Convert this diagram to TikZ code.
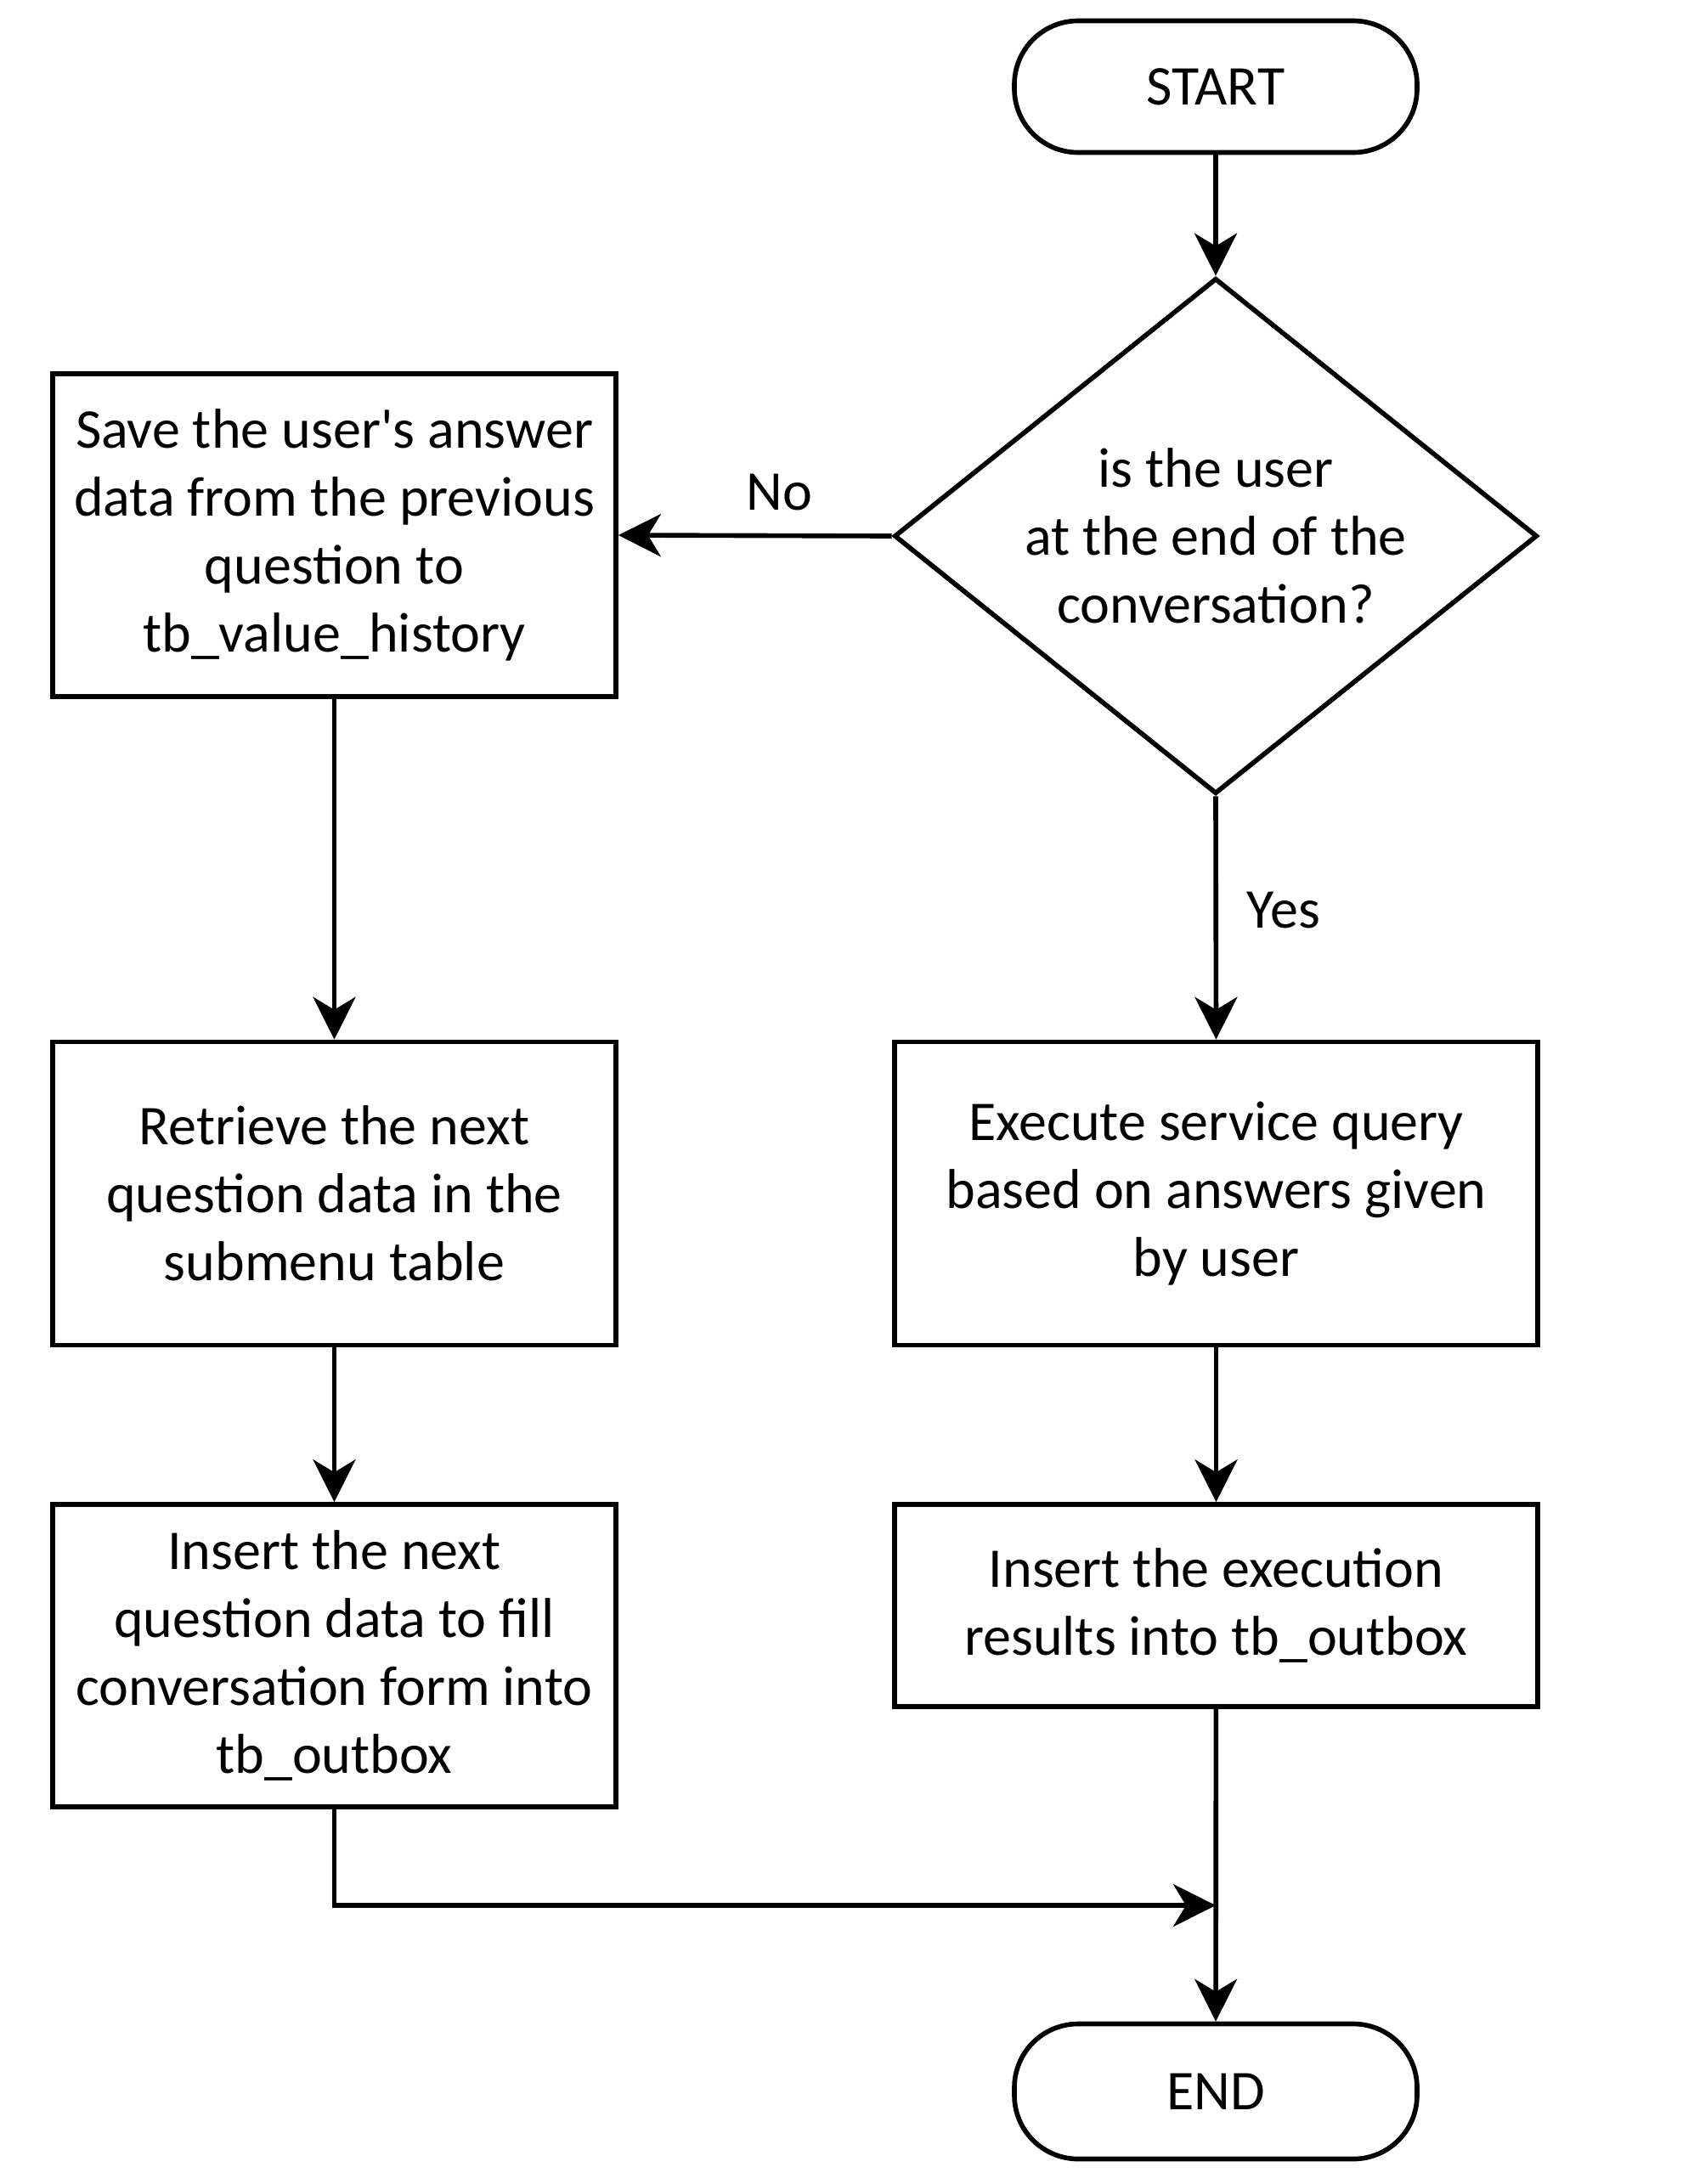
\documentclass[tikz,border=0pt]{standalone}
\usepackage{fontspec}
\setmainfont{Carlito}
\usetikzlibrary{arrows.meta,positioning}
\usetikzlibrary{shapes.geometric}

\begin{document}
\begin{tikzpicture}[
  every node/.style={font=\fontsize{18.8}{22.8}\selectfont},
  terminal/.style={draw, line width=1.6pt, rounded corners=0.75cm, minimum width=4.74cm, minimum height=1.55cm, inner sep=0pt},
  process/.style={draw, line width=1.6pt, align=center, minimum width=6.63cm, inner sep=0pt},
  decision/.style={draw, diamond, aspect=1.25, line width=1.6pt, align=center, minimum width=7.57cm, minimum height=6.07cm, inner sep=0pt},
  flow/.style={line width=1.6pt, -{Stealth[length=0.5cm, width=0.5cm, inset=0.15cm]}}
]
\useasboundingbox (0,0) rectangle (19.94,-25.71);
\node[terminal] (start) at (14.31,-1.02) {START};
\node[decision] (check) at (14.31,-6.31) {is the user\\at the end of the\\conversation?};
\node[process, minimum height=3.80cm] (save) at (3.935,-6.30) {Save the user\textquotesingle s answer\\data from the previous\\question to\\tb\_value\_history};
\node[process, minimum height=3.57cm] (retrieve) at (3.935,-14.05) {Retrieve the next\\question data in the\\submenu table};
\node[process, minimum height=3.56cm] (insertq) at (3.935,-19.49) {Insert the next\\question data to fill\\conversation form into\\tb\_outbox};
\node[process, minimum width=7.57cm, minimum height=3.57cm] (execute) at (14.315,-14.05) {Execute service query\\based on answers given\\by user};
\node[process, minimum width=7.57cm, minimum height=2.38cm] (insertr) at (14.315,-18.90) {Insert the execution\\results into tb\_outbox};
\node[terminal, minimum height=1.59cm] (end) at (14.31,-24.62) {END};
\coordinate (join) at (14.31,-22.43);
\draw[flow] (start) -- (check);
\draw[flow] (check.west) -- node[above=0.15cm, pos=0.41] {No} (save.east);
\draw[flow] (check.south) -- node[right=0.22cm, pos=0.47] {Yes} (execute.north);
\draw[flow] (save) -- (retrieve);
\draw[flow] (retrieve) -- (insertq);
\draw[flow] (execute) -- (insertr);
\draw[flow] (insertr) -- (end);
\draw[flow] (insertq.south) |- (join);
\end{tikzpicture}
\end{document}
